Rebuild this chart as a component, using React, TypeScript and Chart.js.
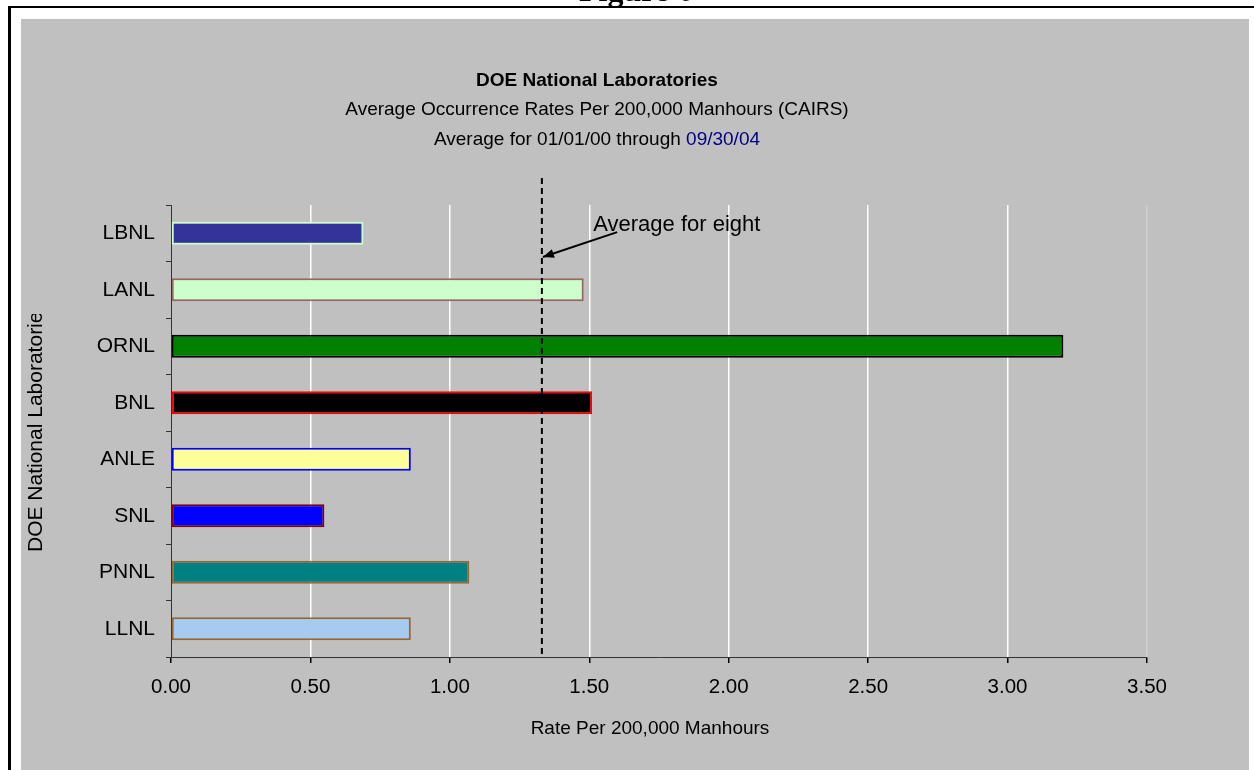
import React, { useEffect, useRef } from 'react';
import { Chart, registerables } from 'chart.js';

Chart.register(...registerables);

// ---- Data ----
const labs: string[] = ['LBNL', 'LANL', 'ORNL', 'BNL', 'ANLE', 'SNL', 'PNNL', 'LLNL'];
const rates: number[] = [0.69, 1.48, 3.2, 1.51, 0.86, 0.55, 1.07, 0.86];
const fillColors: string[] = ['#333399', '#CCFFCC', '#008000', '#000000', '#FFFF99', '#0000FF', '#008080', '#A6CAF0'];
const borderColors: string[] = ['#CCFFCC', '#996666', '#000000', '#FF0000', '#0000FF', '#800000', '#996633', '#996633'];
const averageForEight = 1.33;
const xMin = 0;
const xMax = 3.5;
const xStep = 0.5;

const figureLabel = 'Figure 6';
const titleLine1 = 'DOE National Laboratories';
const titleLine2 = 'Average Occurrence Rates Per 200,000 Manhours (CAIRS)';
const titleLine3a = 'Average for 01/01/00 through ';
const titleLine3b = '09/30/04';
const xAxisTitle = 'Rate Per 200,000 Manhours';
const yAxisTitle = 'DOE National Laboratories';
const annotationText = 'Average for eight';

const FONT = '"Liberation Sans", Arial, sans-serif';
const FS = 19;

const decorPlugin = {
  id: 'decor',
  beforeDraw(chart: any) {
    const { ctx, width, height } = chart;
    ctx.save();
    ctx.fillStyle = '#FFFFFF';
    ctx.fillRect(0, 0, width, height);
    // page frame
    ctx.fillStyle = '#000000';
    ctx.fillRect(9, 6, width - 9, 2);
    ctx.fillRect(8, 6, 3, height - 6);
    // gray chart background
    ctx.fillStyle = '#C0C0C0';
    ctx.fillRect(21, 19, 1228, height - 19);
    // "Figure 6" (cut at top)
    ctx.fillStyle = '#000';
    ctx.font = `bold 32px "Liberation Serif", "Times New Roman", serif`;
    ctx.textAlign = 'center';
    ctx.textBaseline = 'alphabetic';
    ctx.fillText(figureLabel, 636, 1);
    // titles
    const cx = 597;
    ctx.textBaseline = 'middle';
    ctx.font = `bold ${FS}px ${FONT}`;
    ctx.fillText(titleLine1, cx, 81);
    ctx.font = `${FS}px ${FONT}`;
    ctx.fillText(titleLine2, cx, 110);
    const wa = ctx.measureText(titleLine3a).width;
    const wb = ctx.measureText(titleLine3b).width;
    const start = cx - (wa + wb) / 2;
    ctx.textAlign = 'left';
    ctx.fillText(titleLine3a, start, 140);
    ctx.fillStyle = '#000080';
    ctx.fillText(titleLine3b, start + wa, 140);
    ctx.restore();
  },
  afterDatasetsDraw(chart: any) {
    const { ctx } = chart;
    const xs = chart.scales.x;
    const ys = chart.scales.y;
    const ax = xs.getPixelForValue(averageForEight);
    ctx.save();
    // dashed average line
    ctx.strokeStyle = '#000';
    ctx.lineWidth = 2;
    ctx.setLineDash([6, 4]);
    ctx.beginPath();
    ctx.moveTo(ax, ys.getPixelForValue(-0.98));
    ctx.lineTo(ax, chart.chartArea.bottom);
    ctx.stroke();
    ctx.setLineDash([]);
    // arrow
    const sx = xs.getPixelForValue(1.6);
    const sy = ys.getPixelForValue(-0.02);
    const tx = ax + 1;
    const ty = ys.getPixelForValue(0.42);
    ctx.lineWidth = 2;
    ctx.beginPath();
    ctx.moveTo(sx, sy);
    ctx.lineTo(tx, ty);
    ctx.stroke();
    const ang = Math.atan2(ty - sy, tx - sx);
    const hl = 11, hw = 4.5;
    ctx.beginPath();
    ctx.moveTo(tx, ty);
    ctx.lineTo(tx - hl * Math.cos(ang) + hw * Math.sin(ang), ty - hl * Math.sin(ang) - hw * Math.cos(ang));
    ctx.lineTo(tx - hl * Math.cos(ang) - hw * Math.sin(ang), ty - hl * Math.sin(ang) + hw * Math.cos(ang));
    ctx.closePath();
    ctx.fillStyle = '#000';
    ctx.fill();
    // annotation text
    ctx.font = `22px ${FONT}`;
    ctx.textAlign = 'left';
    ctx.textBaseline = 'middle';
    ctx.fillText(annotationText, xs.getPixelForValue(1.5) + 4, ys.getPixelForValue(-0.15));
    ctx.restore();
  },
  afterDraw(chart: any) {
    const { ctx, chartArea } = chart;
    ctx.save();
    ctx.fillStyle = '#000';
    ctx.font = `${FS}px ${FONT}`;
    ctx.textAlign = 'center';
    ctx.textBaseline = 'middle';
    ctx.fillText(xAxisTitle, (chartArea.left + chartArea.right) / 2 - 9, 729);
    // y axis title (clipped at top)
    ctx.beginPath();
    ctx.rect(0, 314, 160, 300);
    ctx.clip();
    ctx.font = `21px ${FONT}`;
    ctx.translate(36, 552);
    ctx.rotate(-Math.PI / 2);
    ctx.textAlign = 'left';
    ctx.fillText(yAxisTitle, 0, 0);
    ctx.restore();
  },
};

export default function App() {
  const ref = useRef<HTMLCanvasElement | null>(null);
  useEffect(() => {
    if (!ref.current) return;
    const chart = new Chart(ref.current, {
      type: 'bar',
      data: {
        labels: labs,
        datasets: [
          {
            data: rates,
            backgroundColor: fillColors,
            borderColor: borderColors,
            borderWidth: 2,
            borderSkipped: false,
            barPercentage: 0.41,
            categoryPercentage: 1,
          },
        ],
      },
      options: {
        indexAxis: 'y',
        animation: false,
        responsive: false,
        devicePixelRatio: 1,
        layout: { padding: { left: 0, right: 107, top: 205, bottom: 0 } },
        plugins: { legend: { display: false }, tooltip: { enabled: false }, title: { display: false } },
        scales: {
          x: {
            type: 'linear',
            min: xMin,
            max: xMax,
            afterFit: (s: any) => { s.height = 113; },
            ticks: {
              stepSize: xStep,
              color: '#000',
              font: { family: FONT, size: 20.5 },
              padding: 12,
              callback: (v: any) => Number(v).toFixed(2),
            },
            grid: {
              color: (c: any) => (c.tick && c.tick.value === 0 ? 'rgba(0,0,0,0)' : c.tick && c.tick.value === xMax ? 'rgba(255,255,255,0.25)' : '#FFFFFF'),
              lineWidth: 1.5,
              tickColor: '#000',
              tickLength: 6,
            },
            border: { display: true, color: '#333333', width: 1 },
          },
          y: {
            type: 'category',
            afterFit: (s: any) => { s.width = 171; },
            ticks: {
              color: '#000',
              font: { family: FONT, size: 21 },
              padding: 11,
            },
            grid: {
              offset: true,
              drawOnChartArea: false,
              drawTicks: true,
              tickLength: 5,
              tickColor: '#333333',
            },
            border: { display: true, color: '#333333', width: 1 },
          },
        },
      },
      plugins: [decorPlugin],
    });
    return () => chart.destroy();
  }, []);
  return (
    <div style={{ position: 'absolute', left: 0, top: 0, width: 1254, height: 770 }}>
      <canvas ref={ref} width={1254} height={770} style={{ display: 'block' }} />
    </div>
  );
}
